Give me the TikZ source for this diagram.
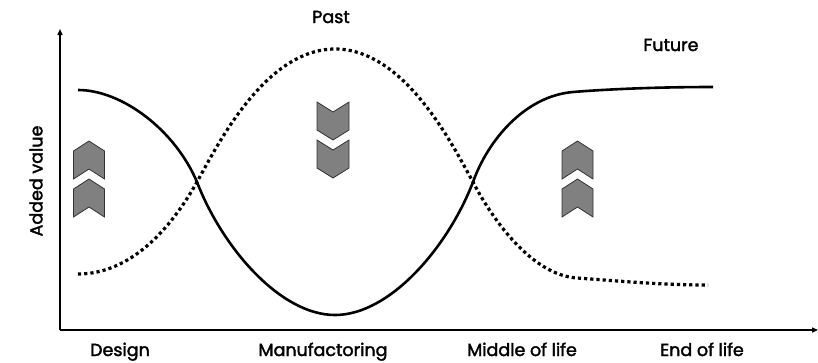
\documentclass[tikz,border=0pt]{standalone}
\usepackage{fontspec}
\setmainfont{Poppins}[UprightFeatures={FakeBold=2}]
\usepackage{tikz}
\usetikzlibrary{arrows.meta}
\tikzstyle{axis line}   = [line width=1.4, -{Triangle[length=6,width=5]}]
\tikzstyle{value curve} = [line width=2.6]
\tikzstyle{old curve}   = [line width=3.2, dash pattern=on 3.2 off 3]
\tikzstyle{chevron}     = [fill=black!50, draw=black!80, line width=0.8, line join=miter]
\tikzstyle{stage label} = [font=\fontsize{17.5}{19}\selectfont, anchor=base]

\begin{document}
\begin{tikzpicture}[x=1pt, y=-1pt]
\useasboundingbox (0,0) rectangle (818,362);

    % Axes
    \coordinate (o) at (60,330);
    \coordinate (ytop) at (60,29);
    \coordinate (xend) at (818,330);
    \draw[axis line] (o) -- (ytop);
    \draw[axis line] (o) -- (xend);

    % Stage labels
    \node(design)[stage label] at (120,356) {Design};
    \node(manuf)[stage label]  at (323,356) {Manufactoring};
    \node(mol)[stage label]    at (522,356) {Middle of life};
    \node(eol)[stage label]    at (702,356) {End of life};
    \node(added)[stage label, rotate=90, anchor=center] at (36,181) {Added value};
    \node(past)[stage label, anchor=center]   at (331,17) {Past};
    \node(future)[stage label, anchor=center] at (671,45) {Future};

    % Future curve
    \draw[value curve] (78,90) .. controls (122,90) and (175,130) .. (197,182)
        .. controls (222,247) and (280,315) .. (335,315)
        .. controls (390,315) and (448,247) .. (473,182)
        .. controls (488,140) and (525,96) .. (573,92)
        .. controls (610,89) and (660,87) .. (713,87);

    % Past curve
    \draw[old curve] (78,274) .. controls (130,274) and (170,230) .. (197,182)
        .. controls (217,146) and (265,49) .. (335,49)
        .. controls (405,49) and (453,146) .. (473,182)
        .. controls (490,215) and (530,275) .. (577,278)
        .. controls (620,281) and (660,285) .. (708,285);

    % Upward chevrons
    \foreach \cx in {89,577.5}{
        \foreach \a in {141,179}{
            \draw[chevron] (\cx,\a) -- ++(15.5,10) -- ++(0,28) -- (\cx,\a+28)
                -- (\cx-15.5,\a+38) -- ++(0,-28) -- cycle;
        }
    }
    % Downward chevrons
    \foreach \t in {102,140}{
        \draw[chevron] (317,\t) -- (333,\t+10) -- (349,\t) -- ++(0,28)
            -- (333,\t+38) -- (317,\t+28) -- cycle;
    }

\end{tikzpicture}
\end{document}
